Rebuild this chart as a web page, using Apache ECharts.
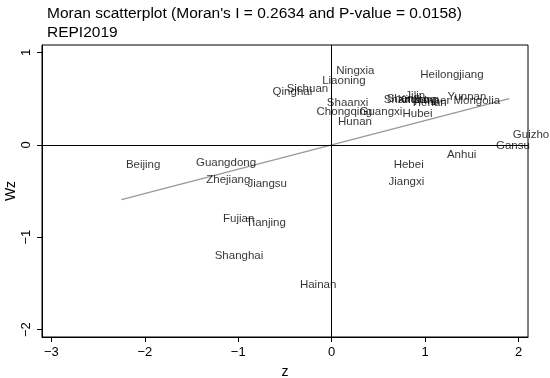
<!DOCTYPE html>
<html>
<head>
<meta charset="utf-8">
<script src="https://cdn.jsdelivr.net/npm/echarts@6/dist/echarts.min.js"></script>
<style>
html,body{margin:0;padding:0;background:#fff;}
#chart{width:550px;height:378px;}
</style>
</head>
<body>
<div id="chart"></div>
<script>
const provinces = ["Beijing","Guangdong","Zhejiang","Jiangsu","Fujian","Tianjing","Shanghai","Hainan",
  "Ningxia","Liaoning","Sichuan","Qinghai","Heilongjiang","Shaanxi","Chongqing","Guangxi","Hunan","Hubei",
  "Shandong","Shanxi","Jilin","Xinjiang","Henan","Inner Mongolia","Yunnan","Guizhou","Gansu","Anhui","Hebei","Jiangxi"];
const zValues = [-2.24,-1.49,-1.38,-0.94,-1.20,-0.955,-1.29,-0.378,
  0.01,-0.14,-0.52,-0.67,0.91,-0.09,-0.20,0.26,0.03,0.72,
  0.52,0.55,0.75,0.67,0.83,0.95,1.20,1.90,1.72,1.195,0.625,0.57];
const wzValues = [-0.22,-0.19,-0.383,-0.426,-0.805,-0.848,-1.20,-1.52,
  0.805,0.693,0.603,0.571,0.758,0.452,0.361,0.361,0.252,0.333,
  0.49,0.50,0.53,0.49,0.45,0.48,0.523,0.108,-0.01,-0.105,-0.217,-0.404];
const fitLineZ = [-2.25, 1.90];
const fitLineWz = [-0.593, 0.500];
const xTicks = [-3,-2,-1,0,1,2];
const yTicks = [-2,-1,0,1];

const pts = provinces.map((n,i)=>({name:n, value:[zValues[i], wzValues[i]]}));
const fit = fitLineZ.map((z,i)=>[z, fitLineWz[i]]);
const FONT = '"Liberation Sans", Arial, Helvetica, sans-serif';

const chart = echarts.init(document.getElementById('chart'), null, {renderer:'canvas'});
chart.setOption({
  animation:false,
  backgroundColor:'#fff',
  textStyle:{fontFamily:FONT},
  title:[
    {text:"Moran scatterplot (Moran's I = 0.2634 and P-value = 0.0158)", left:42, top:1,
     textStyle:{fontFamily:FONT,fontSize:15.5,fontWeight:'normal',color:'#000'}},
    {text:"REPI2019", left:42, top:20,
     textStyle:{fontFamily:FONT,fontSize:15.5,fontWeight:'normal',color:'#000'}}
  ],
  grid:{left:42,right:22,top:45,bottom:41,outerBoundsMode:'none',containLabel:false,
    show:true,borderColor:'#000',borderWidth:1,backgroundColor:'#fff'},
  xAxis:{type:'value',min:-3.1,max:2.1,
    name:'z',nameLocation:'middle',nameGap:28,nameMoveOverlap:false,nameTextStyle:{fontFamily:FONT,fontSize:14,color:'#000'},
    axisLine:{show:true,onZero:false,lineStyle:{color:'#000',width:1}},
    axisTick:{show:true,length:5,customValues:xTicks,lineStyle:{color:'#000'}},
    axisLabel:{customValues:xTicks,color:'#000',fontSize:13,margin:9,
      formatter:v=>String(v).replace('-','\u2212')},
    splitLine:{show:false}},
  yAxis:{type:'value',min:-2.08,max:1.08,
    name:'Wz',nameLocation:'middle',nameGap:24,nameMoveOverlap:false,nameRotate:90,nameTextStyle:{fontFamily:FONT,fontSize:14,color:'#000'},
    axisLine:{show:true,onZero:false,lineStyle:{color:'#000',width:1}},
    axisTick:{show:true,length:5,customValues:yTicks,lineStyle:{color:'#000'}},
    axisLabel:{customValues:yTicks,color:'#000',fontSize:13,margin:9,rotate:90,
      formatter:v=>String(v).replace('-','\u2212')},
    splitLine:{show:false}},
  series:[
    {type:'line',data:[],silent:true,
     markLine:{symbol:'none',silent:true,label:{show:false},
       lineStyle:{color:'#000',width:1,type:'solid'},
       data:[{xAxis:0},{yAxis:0}]}},
    {type:'line',data:fit,showSymbol:false,symbol:'none',
     lineStyle:{color:'#999',width:1.3},z:3},
    {type:'scatter',data:pts,symbolSize:1,itemStyle:{color:'rgba(0,0,0,0)'},z:4,
     label:{show:true,position:'right',distance:3,formatter:p=>p.name,
       fontFamily:FONT,fontSize:11.5,color:'#000'}}
  ]
});
</script>
</body>
</html>
